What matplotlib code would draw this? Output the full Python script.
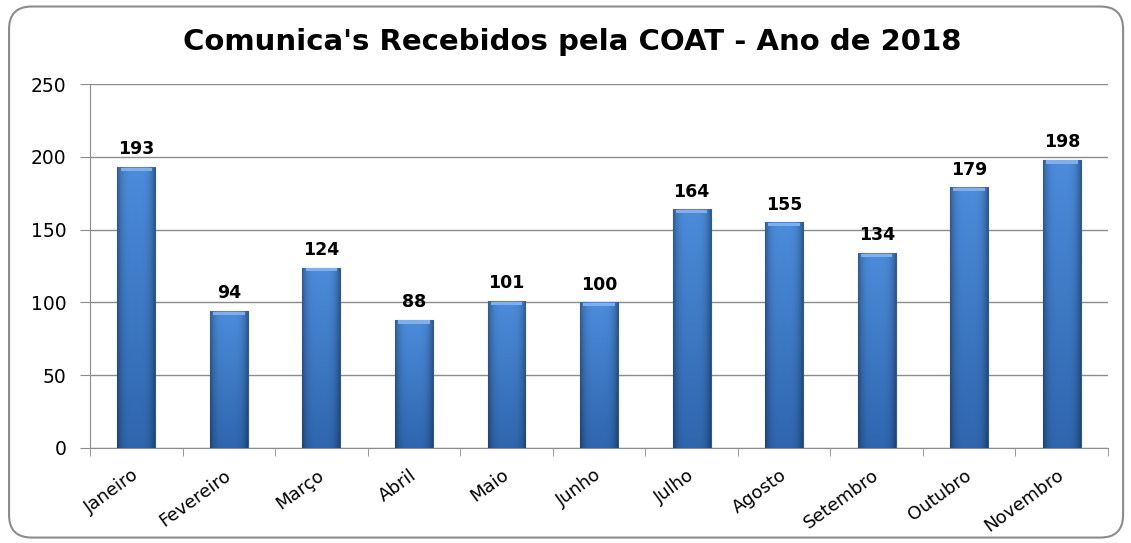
import matplotlib.pyplot as plt
import numpy as np
from matplotlib.patches import FancyBboxPatch
from matplotlib.colors import to_rgb
from matplotlib.transforms import ScaledTranslation

meses = ['Janeiro', 'Fevereiro', 'Março', 'Abril', 'Maio', 'Junho',
         'Julho', 'Agosto', 'Setembro', 'Outubro', 'Novembro']
valores = [193, 94, 124, 88, 101, 100, 164, 155, 134, 179, 198]
yticks = [0, 50, 100, 150, 200, 250]

plt.rcParams['font.family'] = ['DejaVu Sans']

fig = plt.figure(figsize=(11.31, 5.43), dpi=100)
ax = fig.add_axes([0.0796, 0.175, 0.9001, 0.670])

# rounded chart border
borda = FancyBboxPatch((0.008, 0.01), 0.985, 0.978, boxstyle='round,pad=0,rounding_size=0.02',
                       transform=fig.transFigure, fill=False, edgecolor='#8c8c8c', lw=1.5,
                       mutation_aspect=1131 / 543)
fig.patches.append(borda)

x = np.arange(len(meses))
largura = 0.41
barras = ax.bar(x, valores, width=largura, color='#3a72bd', edgecolor='#2c5a96', lw=0.8, zorder=2)

# gradient: lighter at top, darker at bottom and at the sides
topo = np.array(to_rgb('#4c8cdb'))
base = np.array(to_rgb('#2f66ae'))
t = np.linspace(0, 1, 100)[:, None]          # 0 = bottom, 1 = top
u = np.linspace(-1, 1, 64)[None, :]
lado = 1 - 0.35 * np.abs(u) ** 4
for b in barras:
    x0, w, h = b.get_x(), b.get_width(), b.get_height()
    img = (base[None, None, :] * (1 - t[..., None]) + topo[None, None, :] * t[..., None]) * lado[..., None]
    im = ax.imshow(img, extent=(x0, x0 + w, 0, h), origin='lower', aspect='auto', zorder=3,
                   interpolation='bilinear')
    im.set_clip_path(b)
    # light top bevel
    ax.fill_between([x0 + 0.035, x0 + w - 0.035], h - 2.6, h - 0.4, color='#7cb0ee', zorder=4, lw=0)

for xi, v in zip(x, valores):
    ax.text(xi, v + 6, str(v), ha='center', va='bottom', fontsize=12.5, fontweight='bold', zorder=5)

ax.set_xlim(-0.5, len(meses) - 0.5)
ax.set_ylim(0, 250)
ax.set_yticks(yticks)
ax.tick_params(axis='y', labelsize=13.5, length=7, color='#8c8c8c', pad=10)
ax.set_xticks(x)
ax.set_xticklabels(meses, rotation=36, ha='right', rotation_mode='anchor', fontsize=13)
ax.tick_params(axis='x', length=0, pad=13)
ax.set_xticks(np.arange(-0.5, len(meses)), minor=True)
ax.tick_params(axis='x', which='minor', length=6, color='#8c8c8c')
desloc = ScaledTranslation(-5 / 100, 0, fig.dpi_scale_trans)
for lab in ax.get_xticklabels():
    lab.set_transform(lab.get_transform() + desloc)

ax.grid(axis='y', color='#8c8c8c', lw=1, zorder=0)
for s in ['top', 'right']:
    ax.spines[s].set_visible(False)
ax.spines['left'].set_color('#8c8c8c')
ax.spines['bottom'].set_color('#8c8c8c')
ax.set_axisbelow(True)

fig.text(0.506, 0.922, "Comunica's Recebidos pela COAT - Ano de 2018", ha='center', va='center',
         fontsize=21, fontweight='bold')

fig.savefig('out.png', dpi=100)
